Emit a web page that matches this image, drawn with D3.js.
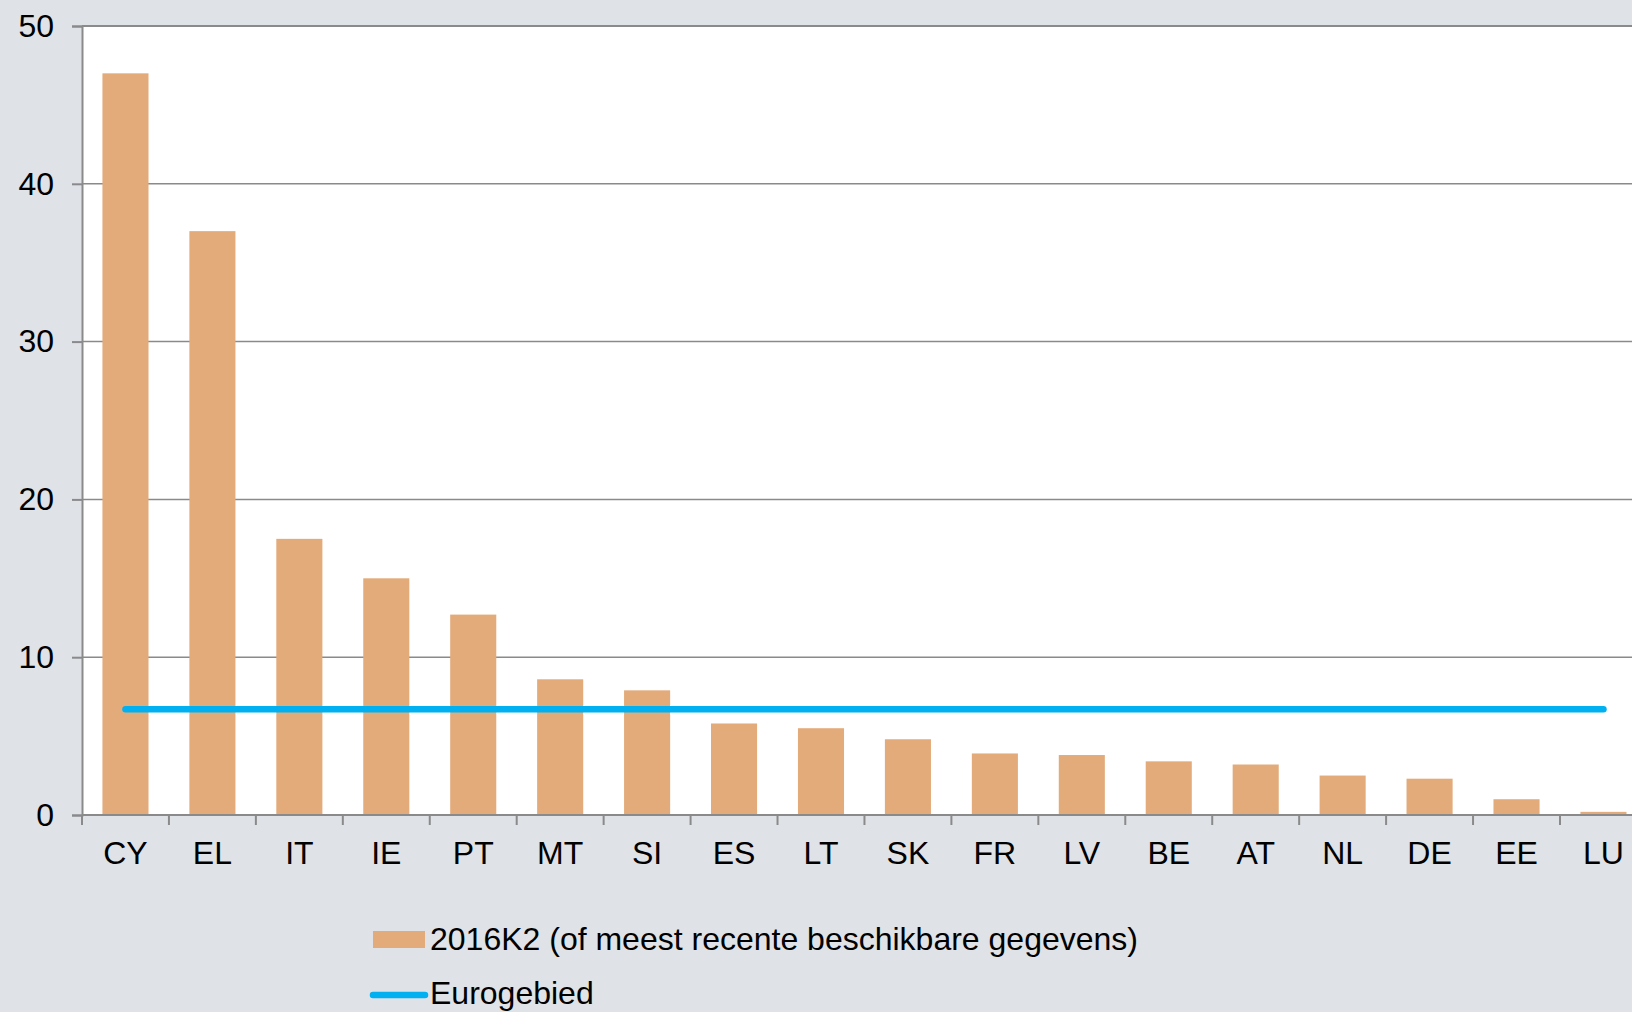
<!DOCTYPE html>
<html>
<head>
<meta charset="utf-8">
<script src="https://cdn.jsdelivr.net/npm/d3@7"></script>
<style>
    body { margin: 0; background: #dfe2e7; overflow: hidden; }
    svg { display: block; font-family: "Liberation Sans", Arial, sans-serif; }
</style>
</head>
<body>
<svg id="chart" width="1632" height="1012"></svg>
<script>
// DATA
const countries = ["CY", "EL", "IT", "IE", "PT", "MT", "SI", "ES", "LT", "SK", "FR", "LV", "BE", "AT", "NL", "DE", "EE", "LU"];
const values = [47.0, 37.0, 17.5, 15.0, 12.7, 8.6, 7.9, 5.8, 5.5, 4.8, 3.9, 3.8, 3.4, 3.2, 2.5, 2.3, 1.0, 0.2];
const euroArea = 6.7;
const yTicks = [0, 10, 20, 30, 40, 50];
const seriesNames = ["2016K2 (of meest recente beschikbare gegevens)", "Eurogebied"];

// CONSTANTS
const W = 1632, H = 1012;
const plotLeft = 82, plotTop = 26, plotBottom = 815;
const step = 86.94; // band step, chart runs past the right edge
const fontSize = 32;
const barColor = "#e3ab7a";
const lineColor = "#00b0f0";
const gridColor = "#8a8a8a";

const svg = d3.select("#chart");

const x = d3.scaleBand()
    .domain(countries)
    .range([plotLeft, plotLeft + step * countries.length])
    .padding(0);

const y = d3.scaleLinear()
    .domain([0, 50])
    .range([plotBottom, plotTop]);

// plot area
svg.append("rect")
    .attr("x", plotLeft)
    .attr("y", plotTop)
    .attr("width", W - plotLeft)
    .attr("height", plotBottom - plotTop)
    .attr("fill", "#ffffff");

// gridlines
svg.append("g")
    .selectAll("line")
    .data(yTicks.filter(d => d > 0))
    .enter()
    .append("line")
    .attr("x1", plotLeft)
    .attr("x2", W)
    .attr("y1", d => y(d))
    .attr("y2", d => y(d))
    .attr("stroke", gridColor)
    .attr("stroke-width", d => d === 50 ? 2.2 : 1.5);

// bars
const barW = x.bandwidth() * 0.53;
svg.append("g")
    .selectAll("rect")
    .data(values)
    .enter()
    .append("rect")
    .attr("x", (d, i) => x(countries[i]) + (x.bandwidth() - barW) / 2)
    .attr("y", d => y(d))
    .attr("width", barW)
    .attr("height", d => y(0) - y(d))
    .attr("fill", barColor);

// y axis
const yAxis = svg.append("g")
    .attr("transform", `translate(${plotLeft},0)`)
    .call(d3.axisLeft(y).tickValues(yTicks).tickSize(10).tickPadding(18).tickFormat(d3.format("d")));
yAxis.select(".domain").attr("stroke", gridColor).attr("stroke-width", 2);
yAxis.selectAll(".tick line").attr("stroke", gridColor).attr("stroke-width", 2);
yAxis.selectAll(".tick text")
    .attr("font-size", fontSize)
    .attr("fill", "#000")
    .attr("font-family", "Liberation Sans, Arial, sans-serif");

// x axis - ticks at band boundaries
const xAxis = svg.append("g");
xAxis.append("line")
    .attr("x1", plotLeft)
    .attr("x2", W)
    .attr("y1", plotBottom)
    .attr("y2", plotBottom)
    .attr("stroke", gridColor)
    .attr("stroke-width", 2);
xAxis.selectAll(".xtick")
    .data(countries)
    .enter()
    .append("line")
    .attr("x1", d => x(d))
    .attr("x2", d => x(d))
    .attr("y1", plotBottom)
    .attr("y2", plotBottom + 10)
    .attr("stroke", gridColor)
    .attr("stroke-width", 2);
xAxis.selectAll(".xlabel")
    .data(countries)
    .enter()
    .append("text")
    .attr("x", d => x(d) + x.bandwidth() / 2)
    .attr("y", 864)
    .attr("text-anchor", "middle")
    .attr("font-size", fontSize)
    .attr("fill", "#000")
    .text(d => d);

// euro area line
svg.append("line")
    .attr("x1", x(countries[0]) + x.bandwidth() / 2)
    .attr("x2", x(countries[countries.length - 1]) + x.bandwidth() / 2)
    .attr("y1", y(euroArea))
    .attr("y2", y(euroArea))
    .attr("stroke", lineColor)
    .attr("stroke-width", 6.5)
    .attr("stroke-linecap", "round");

// legend
svg.append("rect")
    .attr("x", 373)
    .attr("y", 931)
    .attr("width", 52)
    .attr("height", 17)
    .attr("fill", barColor);
svg.append("text")
    .attr("x", 430)
    .attr("y", 950)
    .attr("font-size", fontSize)
    .attr("fill", "#000")
    .text(seriesNames[0]);

svg.append("line")
    .attr("x1", 373)
    .attr("x2", 425)
    .attr("y1", 995)
    .attr("y2", 995)
    .attr("stroke", lineColor)
    .attr("stroke-width", 6.5)
    .attr("stroke-linecap", "round");
svg.append("text")
    .attr("x", 430)
    .attr("y", 1004)
    .attr("font-size", fontSize)
    .attr("fill", "#000")
    .text(seriesNames[1]);
</script>
</body>
</html>
